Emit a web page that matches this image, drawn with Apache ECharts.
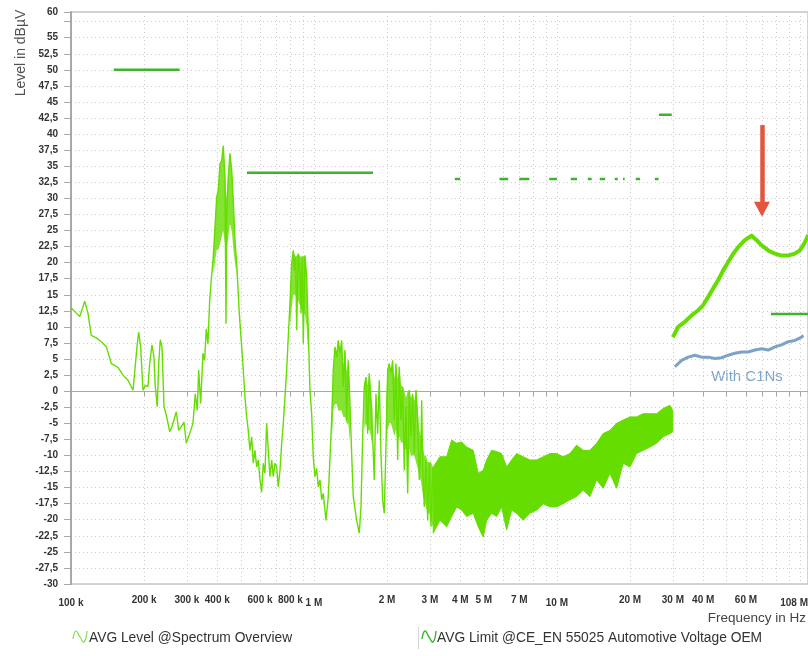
<!DOCTYPE html>
<html>
<head>
<meta charset="utf-8">
<script src="https://cdn.jsdelivr.net/npm/echarts@6.0.0/dist/echarts.min.js"></script>
<style>
html,body{margin:0;padding:0;background:#ffffff;}
#chart{width:808px;height:656px;}
</style>
</head>
<body>
<div id="chart"></div>
<script>
// ---- Data (frequency in kHz, level in dBµV) ----
// AVG Level, 100 kHz .. 3.2 MHz
const levelFreq = [
  100, 108.6, 113.9, 117.5, 121.2, 127.1, 133.2, 139.8, 142, 146.5,
  151.3, 156.1, 163.7, 171.6, 174.4, 180, 182.9, 186.9, 189.9, 193.5,
  197.8, 202.2, 207.4, 210.8, 215.4, 219.5, 222.3, 226.5, 229.6, 233.1,
  236.9, 241.4, 246.7, 254.8, 260.4, 271.3, 277.5, 284.4, 291.7, 298.2,
  307.9, 317.7, 324.7, 330.9, 335.3, 341.7, 349.3, 354.9, 360.4, 366.2,
  372.2, 377.9, 385.1, 391.4, 397.8, 403.9, 410.5, 417.1, 423.4, 430.3,
  434.4, 437.3, 444, 451.2, 458.5, 465.5, 473.1, 480.8, 492.8, 504.1,
  511.8, 520, 528.4, 536.5, 545.2, 554.1, 562.6, 571.7, 581, 589.9,
  599.5, 609.2, 618.4, 628.5, 638.7, 648.5, 659.1, 669.8, 680.1, 691.1,
  702.4, 713.1, 724.7, 736.4, 747.7, 759.8, 772.2, 783.8, 796.6, 809.5,
  821.9, 829.7, 840.9, 848.9, 861.9, 875.9, 884.3, 895.3, 903.6, 918.3,
  933.3, 947.4, 962.7, 978.4, 993.3, 1009.5, 1025.9, 1041.6, 1058.5, 1075.7,
  1092.2, 1120.6, 1145.2, 1182.6, 1200.8, 1220.3, 1240.1, 1258.9, 1279.4, 1300.2,
  1320.1, 1341.6, 1363.4, 1384.3, 1406.5, 1429.4, 1451.3, 1498.8, 1536.3, 1561.3,
  1586.7, 1610.6, 1636.8, 1663.4, 1688.9, 1716.4, 1744.3, 1770.6, 1799.4, 1828.6,
  1856.7, 1886.9, 1917.6, 1947, 1978.6, 2010.8, 2041.6, 2074.8, 2108.5, 2140.9,
  2175.3, 2210.7, 2244.5, 2281, 2318.1, 2353.6, 2391.9, 2430.8, 2468, 2508.1,
  2548.9, 2587.9, 2630, 2672.3, 2713.2, 2757.3, 2775.7, 2802.1, 2845, 2891.3,
  2938.3, 2983.2, 3031.7, 3081, 3148.5, 3199.8
];
const levelValue = [
  13.0, 11.6, 14.0, 12.1, 8.7, 8.3, 7.7, 6.9, 6.6, 4.3,
  4.0, 3.7, 2.5, 1.7, 1.4, 0.15, 0.05, 6.9, 9.2, 6.9,
  0.15, 0.9, 0.7, 4.3, 7.2, 5.3, 0.7, -2.4, 4.3, 8.0,
  6.9, -2.4, -3.7, -6.3, -5.5, -3.2, -6.1, -5.5, -4.8, -8.1,
  -6.6, -5.0, -0.4, -3.0, 3.3, -1.9, 5.9, 4.8, 9.7, 7.4,
  14.1, 17.3, 20.9, 25.5, 30.2, 31.3, 35.4, 35.9, 38.2, 33.3,
  10.5, 27.6, 33.3, 37.0, 34.4, 29.7, 23.5, 19.9, 12.1, 6.9,
  3.3, -0.9, -4.0, -6.1, -9.2, -7.1, -11.2, -9.2, -11.8, -10.7,
  -13.8, -15.7, -11.2, -12.8, -5.0, -9.2, -13.3, -10.7, -13.3, -11.2,
  -11.8, -14.9, -12.3, -8.1, -5.0, -0.9, 3.3, 8.4, 13.6, 19.9,
  21.9, 18.8, 20.9, 9.5, 21.4, 18.3, 12.1, 20.9, 7.4, 21.1,
  17.8, 9.5, 0.2, -3.5, -10.2, -13.3, -12.0, -14.9, -13.8, -16.9,
  -15.9, -20.1, -16.4, -4.5, 3.3, 6.9, 5.3, 7.9, 5.9, 7.9,
  0.7, 6.4, -4.5, 4.8, -1.9, -9.7, -16.4, -20.1, -22.1, -18.0,
  -7.1, 0.7, 2.2, -6.6, 2.8, -1.9, -7.1, -13.8, -0.4, -6.6,
  1.7, -9.7, -16.9, -19.0, -8.7, 3.3, 4.3, 2.8, 4.8, -4.5,
  4.3, -10.7, 3.8, -4.5, 0.7, -12.3, -2.4, -15.9, 0.2, -7.1,
  -0.4, -9.7, 0.2, -4.5, -13.8, -8.1, -1.4, -11.8, -18.0, -10.7,
  -20.1, -11.2, -21.1, -11.8, -19.0, -11.2
];
// AVG Level, densely filled parts of the 0.38 .. 3.1 MHz range (group, freq, upper, lower)
const coreGroup = [
  0, 0, 0, 0, 0, 0, 0, 0, 0, 0, 0, 0, 0, 0, 0,
  1, 1, 1, 1, 1, 1, 1, 1, 1, 1,
  2, 2, 2, 2, 2, 2, 2, 2, 2, 2, 2, 2,
  3, 3, 3, 3, 3, 3,
  4, 4, 4, 4, 4, 4, 4, 4, 4, 4, 4, 4, 4, 4, 4, 4, 4, 4, 4,
  5, 5, 5, 5, 5, 5, 5, 5, 5, 5, 5, 5
];
const coreFreq = [
  385, 391, 398, 404, 411, 417, 423, 430, 437, 444, 451, 459, 466, 473, 481,
  796, 810, 822, 841, 862, 884, 904, 918, 933, 947,
  1183, 1201, 1220, 1240, 1259, 1279, 1300, 1320, 1342, 1363, 1384, 1407,
  1611, 1637, 1663, 1689, 1716, 1744,
  1979, 2011, 2042, 2075, 2109, 2141, 2175, 2211, 2245, 2281, 2318, 2354, 2392, 2431, 2468, 2508, 2549, 2588, 2630,
  2630, 2672, 2713, 2757, 2802, 2845, 2891, 2938, 2983, 3032, 3081, 3100
];
const coreHigh = [
  20.9, 25.5, 30.2, 31.3, 35.4, 35.9, 38.2, 34, 30, 34, 37.0, 34.4, 29.7, 23.5, 19.9,
  13.6, 19.9, 21.9, 20.9, 21.4, 20.9, 21.0, 21.1, 17.8, 9.5,
  -4.5, 3.3, 6.9, 5.3, 7.9, 5.9, 7.9, 4, 6.4, 3, 4.8, -1.9,
  0.7, 2.2, 1, 2.8, 0, -3,
  -2, 3.3, 4.3, 2.8, 4.8, 2, 4.3, 2, 3.8, 1, 0.7, 0, -1, 0, 0.2, -1, -0.4, -1.5, 0.2,
  0.2, -3, -6, -7, -8, -10, -10, -11, -11, -11, -11.8, -11.8
];
const coreLow = [
  18, 20, 22, 22, 23, 24, 25, 23, 22, 24, 26, 25, 22, 20, 18,
  10, 13, 15, 15, 14, 13, 12, 12, 10, 6,
  -8, -3, -2, -2, -3, -3, -3, -4, -4, -5, -5, -8,
  -6, -5, -6, -6, -7, -9,
  -8, -6, -5, -5, -6, -7, -6, -8, -7, -8, -8, -9, -9, -10, -9, -10, -10, -10, -11,
  -11, -12, -13, -14, -16, -17, -18, -19, -19, -20, -21, -21
];
// AVG Level, dense band 3.1 .. 30 MHz (upper / lower envelope)
const bandFreq = [
  3097, 3300, 3516, 3688, 3866, 4053, 4249, 4524, 4744, 4974,
  5137, 5386, 5647, 5920, 6209, 6510, 6826, 7266, 7744, 8250,
  8783, 9359, 9972, 10610, 11310, 12050, 12830, 13670, 14570, 15500,
  16520, 17610, 18740, 19970, 21280, 22650, 24140, 25720, 27370, 29170,
  30000
];
const bandHigh = [
  -11.8, -10.2, -10.2, -7.6, -8.1, -7.9, -8.7, -9.2, -12.8, -12.3,
  -10.7, -9.2, -9.4, -9.7, -11.8, -10.7, -9.7, -10.2, -10.7, -10.7,
  -10.2, -9.7, -9.7, -10.2, -9.7, -8.4, -9.2, -9.2, -8.1, -6.6,
  -6.1, -5.0, -4.5, -4.0, -4.0, -3.5, -3.5, -3.5, -2.7, -2.2,
  -3.0
];
const bandLow = [
  -22.1, -20.1, -21.1, -19.5, -18.0, -18.5, -19.5, -19.0, -21.1, -22.7,
  -20.1, -19.0, -19.5, -18.0, -21.6, -18.5, -19.0, -20.1, -19.0, -18.5,
  -17.5, -18.0, -18.0, -17.5, -16.9, -16.4, -15.4, -16.4, -13.8, -15.1,
  -12.8, -15.1, -11.2, -11.8, -9.7, -9.2, -8.7, -8.1, -7.1, -6.6,
  -6.3
];
// AVG Level, 30 .. 108 MHz
const level2Freq = [30000, 31560, 33630, 35840, 38150, 40000, 41940, 43980, 46110, 48350,
  50690, 53150, 55730, 59380, 63290, 66370, 69580, 74050, 78910, 84080,
  89480, 95370, 100000, 103200, 106600, 108000];
const level2Value = [8.4, 10.0, 10.8, 11.8, 12.6, 13.4, 14.7, 16.0, 17.3, 18.8,
  20.1, 21.4, 22.4, 23.5, 24.2, 23.5, 22.7, 21.9, 21.4, 21.1,
  21.1, 21.4, 21.9, 22.7, 23.7, 24.3];
// "With C1Ns" trace
const c1nsFreq = [30590, 32600, 34700, 36980, 39400, 41940, 44690, 47630, 50690, 54010,
  57560, 61260, 65290, 69580, 74050, 78910, 84080, 89480, 95370, 101600, 103200];
const c1nsValue = [3.8, 4.8, 5.3, 5.6, 5.3, 5.3, 5.1, 5.2, 5.6, 5.9,
  6.1, 6.1, 6.4, 6.6, 6.4, 6.9, 7.2, 7.7, 7.9, 8.4, 8.7];
// AVG Limit segments
const limitStart = [150, 530, 3800, 5800, 7000, 9300, 11400, 13400, 15000, 17300, 18700, 21100, 25300, 26300, 76000];
const limitEnd   = [280, 1750, 4000, 6300, 7700, 10000, 12100, 13900, 15800, 17800, 19000, 22000, 26200, 29700, 108000];
const limitValue = [50, 34, 33, 33, 33, 33, 33, 33, 33, 33, 33, 33, 33, 43, 12];
// Annotation arrow (frequency, top level, tip level)
const arrowFreq = [69800];
const arrowLevel = [41.4, 28.3];
// Axis ticks / labels
const xTickValues = [100, 200, 300, 400, 500, 600, 700, 800, 900,
  1000, 2000, 3000, 4000, 5000, 6000, 7000, 8000, 9000,
  10000, 20000, 30000, 40000, 50000, 60000, 70000, 80000, 90000,
  100000, 108000];
const xLabelValues = [100, 200, 300, 400, 600, 800, 1000, 2000, 3000, 4000, 5000, 7000,
  10000, 20000, 30000, 40000, 60000, 108000];
const xDecadeLabels = [100, 1000, 10000, 108000];

// ---- Chart ----
const chart = echarts.init(document.getElementById('chart'), null, {renderer: 'canvas'});
const tickFont = "'Liberation Sans',Arial,sans-serif";
const textFont = "'Liberation Sans',Arial,sans-serif";
const levelColor = '#66dd00';
const limitColor = '#3cb42c';
const blueColor = '#7ca3c7';

function fmtX(v) {
  const t = v < 1000 ? (Math.round(v) + ' k') : (Math.round(v / 1000) + ' M');
  return xDecadeLabels.indexOf(Math.round(v)) >= 0 ? '{d|' + t + '}' : t;
}
function fmtY(v) {
  if (Math.abs(v - 57.5) < 1e-6) return '';
  if (v > 58) return '60';
  return String(v).replace('.', ',');
}

const limitData = [];
limitStart.forEach((s, i) => {
  limitData.push([s, limitValue[i]]);
  limitData.push([limitEnd[i], limitValue[i]]);
  limitData.push([limitEnd[i], '-']);
});

function renderCore(params, api) {
  const i0 = params.dataIndex;
  const g = coreGroup[i0];
  if (i0 > 0 && coreGroup[i0 - 1] === g) return null;
  let i1 = i0;
  while (i1 + 1 < coreGroup.length && coreGroup[i1 + 1] === g) i1++;
  const pts = [];
  for (let i = i0; i <= i1; i++) pts.push(api.coord([coreFreq[i], coreHigh[i]]));
  for (let i = i1; i >= i0; i--) pts.push(api.coord([coreFreq[i], coreLow[i]]));
  return {type: 'polygon', shape: {points: pts}, style: {fill: levelColor, opacity: 0.8}};
}

const option = {
  backgroundColor: '#ffffff',
  animation: false,
  grid: {left: 71, right: 0, top: 12, bottom: 72, show: true, borderColor: '#a8a8a8', borderWidth: 1, outerBoundsMode: 'none'},
  xAxis: {
    type: 'log', logBase: 10, min: 100, max: 108000,
    axisLine: {show: true, lineStyle: {color: '#a8a8a8', width: 1}},
    axisTick: {show: true, length: 5, lineStyle: {color: '#a8a8a8'}, customValues: xTickValues},
    axisLabel: {
      customValues: xLabelValues, formatter: fmtX, color: '#333', fontSize: 10, fontWeight: 'bold',
      fontFamily: tickFont, margin: 11, alignMaxLabel: 'right',
      rich: {d: {color: '#333', fontSize: 10, fontWeight: 'bold', fontFamily: tickFont, padding: [3, 0, 0, 0]}}
    },
    splitLine: {show: true, lineStyle: {color: '#cccccc', type: [1, 3], width: 1}}
  },
  yAxis: {
    type: 'value', min: -30, max: 59, interval: 2.5,
    axisLine: {show: true, lineStyle: {color: '#a8a8a8', width: 2}},
    axisTick: {show: true, length: 7, lineStyle: {color: '#a8a8a8'}},
    axisLabel: {formatter: fmtY, color: '#333', fontSize: 10, fontWeight: 'bold', fontFamily: tickFont, margin: 13},
    splitLine: {show: true, lineStyle: {color: '#cccccc', type: [1, 3], width: 1}}
  },
  series: [
    {
      name: 'AVG Level core', type: 'custom', z: 2,
      data: coreFreq.map((f, i) => [f, coreHigh[i], coreLow[i]]),
      encode: {x: 0, y: [1, 2]},
      renderItem: renderCore
    },
    {
      name: 'AVG Level @Spectrum Overview', type: 'line', symbol: 'none', z: 3,
      data: levelFreq.map((f, i) => [f, levelValue[i]]),
      lineStyle: {color: levelColor, width: 1.4}
    },
    {
      name: 'AVG Level band', type: 'custom', z: 3,
      data: bandFreq.map((f, i) => [f, bandHigh[i], bandLow[i]]),
      encode: {x: 0, y: [1, 2]},
      renderItem: function (params, api) {
        if (params.dataIndex !== 0) return null;
        const pts = [];
        for (let i = 0; i < bandFreq.length; i++) pts.push(api.coord([bandFreq[i], bandHigh[i]]));
        for (let i = bandFreq.length - 1; i >= 0; i--) pts.push(api.coord([bandFreq[i], bandLow[i]]));
        return {type: 'polygon', shape: {points: pts}, style: {fill: levelColor, stroke: levelColor, lineWidth: 1}};
      }
    },
    {
      name: 'AVG Level 30-108 MHz', type: 'line', symbol: 'none', z: 3,
      data: level2Freq.map((f, i) => [f, level2Value[i]]),
      lineStyle: {color: levelColor, width: 4, join: 'round'}
    },
    {
      name: 'With C1Ns', type: 'line', symbol: 'none', z: 3,
      data: c1nsFreq.map((f, i) => [f, c1nsValue[i]]),
      lineStyle: {color: blueColor, width: 3, join: 'round'}
    },
    {
      name: 'AVG Limit @CE_EN 55025 Automotive Voltage OEM', type: 'line', symbol: 'none', z: 4,
      connectNulls: false,
      data: limitData,
      lineStyle: {color: limitColor, width: 2.5},
      markLine: {
        silent: true, animation: false,
        symbol: ['none', 'triangle'], symbolSize: [16, 15],
        label: {show: false},
        lineStyle: {color: '#e4553f', width: 4.5, type: 'solid'},
        data: [[{coord: [arrowFreq[0], arrowLevel[0]]}, {coord: [arrowFreq[0], arrowLevel[1]]}]]
      }
    }
  ],
  graphic: [
    {type: 'text', x: 21, y: 53, rotation: Math.PI / 2,
      style: {text: 'Level in dBµV', align: 'center', verticalAlign: 'middle', fill: '#505050', fontSize: 14, fontFamily: textFont}},
    {type: 'text', x: 806, y: 618,
      style: {text: 'Frequency in Hz', align: 'right', verticalAlign: 'middle', fill: '#444', fontSize: 13.5, fontFamily: textFont}},
    {type: 'text', x: 747, y: 377,
      style: {text: 'With C1Ns', align: 'center', verticalAlign: 'middle', fill: '#7ea6cc', fontSize: 15, fontFamily: textFont}},
    {type: 'polyline', shape: {points: [[73, 639], [76, 631], [80, 637], [84, 642], [87, 631]], smooth: 0.5},
      style: {stroke: '#80dd50', fill: null, lineWidth: 1.2}},
    {type: 'text', x: 89, y: 638,
      style: {text: 'AVG Level @Spectrum Overview', align: 'left', verticalAlign: 'middle', fill: '#333', fontSize: 13.8, fontFamily: textFont}},
    {type: 'line', shape: {x1: 418.5, y1: 627, x2: 418.5, y2: 649}, style: {stroke: '#d4d4d4', lineWidth: 1}},
    {type: 'polyline', shape: {points: [[422, 639], [425, 631], [429, 637], [433, 642], [436, 631]], smooth: 0.5},
      style: {stroke: limitColor, fill: null, lineWidth: 1.4}},
    {type: 'text', x: 437, y: 638,
      style: {text: 'AVG Limit @CE_EN 55025 Automotive Voltage OEM', align: 'left', verticalAlign: 'middle', fill: '#333', fontSize: 13.8, fontFamily: textFont}}
  ]
};
chart.setOption(option);
</script>
</body>
</html>
